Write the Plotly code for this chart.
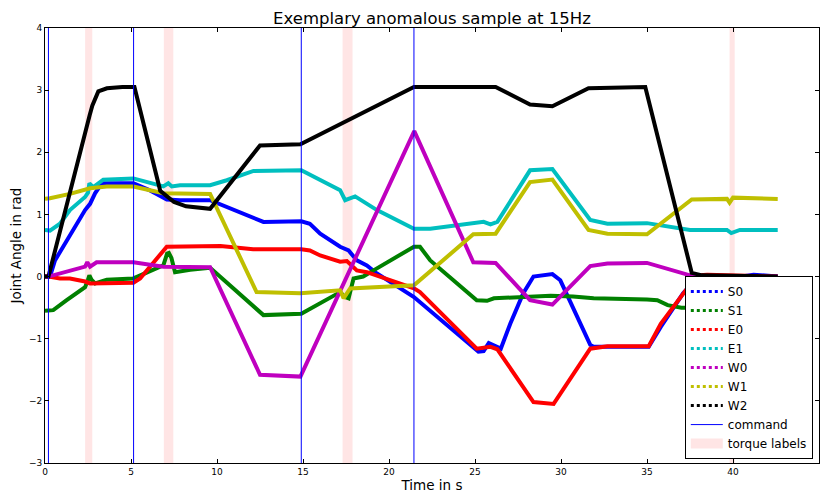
import plotly.graph_objects as go

# ---- data ----
t_S0 = [0, 0.29, 0.58, 1.16, 1.75, 2.33, 2.62, 2.91, 3.3, 5.14, 6.0, 6.88, 7.08, 7.85, 9.6, 12.7, 14.9, 15.4, 16.0, 17.16, 17.65, 18.13, 18.71, 19.3, 21.45, 25.2, 25.5, 25.8, 26.5, 27.05, 27.8, 28.4, 29.5, 29.96, 31.7, 31.9, 35.1, 35.8, 37.1, 38.0, 40.5, 41.2, 42.6]
S0 = [0, 0, 0.26, 0.53, 0.8, 1.07, 1.17, 1.34, 1.5, 1.5, 1.4, 1.28, 1.24, 1.23, 1.23, 0.88, 0.89, 0.85, 0.69, 0.48, 0.42, 0.26, 0.18, 0.05, -0.33, -1.21, -1.2, -1.07, -1.16, -0.76, -0.27, 0.0, 0.04, -0.06, -1.1, -1.13, -1.13, -0.81, -0.27, 0.0, 0.0, 0.03, 0.0]

t_S1 = [0, 0.48, 1.26, 2.33, 2.5, 2.58, 2.7, 2.91, 3.59, 5.14, 6.88, 7.1, 7.2, 7.35, 7.56, 8.44, 9.6, 12.7, 14.9, 17.16, 17.45, 17.65, 17.94, 18.5, 19.1, 21.45, 21.8, 22.4, 25.1, 25.7, 26.1, 29.4, 30.7, 31.9, 35.0, 35.6, 36.2, 37.0, 42.6]
S1 = [-0.55, -0.54, -0.38, -0.17, -0.05, 0.02, -0.05, -0.11, -0.05, -0.03, 0.18, 0.37, 0.38, 0.3, 0.07, 0.11, 0.14, -0.62, -0.6, -0.25, -0.33, -0.35, -0.03, 0.0, 0.1, 0.48, 0.48, 0.26, -0.38, -0.39, -0.35, -0.31, -0.32, -0.35, -0.37, -0.38, -0.46, -0.5, -0.5]

t_E0 = [0, 0.2, 0.87, 1.45, 2.33, 2.62, 5.14, 5.53, 7.08, 9.0, 10.2, 12.1, 14.9, 15.4, 16.0, 17.16, 17.55, 18.13, 18.71, 21.45, 21.8, 25.1, 25.9, 26.3, 28.4, 29.57, 31.7, 32.7, 35.1, 35.8, 36.55, 37.9, 38.5, 42.6]
E0 = [0, 0, -0.03, -0.03, -0.08, -0.11, -0.1, -0.03, 0.48, 0.49, 0.49, 0.44, 0.44, 0.42, 0.34, 0.24, 0.25, 0.1, 0.07, -0.19, -0.25, -1.16, -1.13, -1.17, -2.02, -2.05, -1.16, -1.12, -1.12, -0.76, -0.49, 0.02, 0.03, 0.0]

t_E1 = [0, 0.29, 0.87, 1.45, 2.33, 2.5, 2.58, 2.81, 3.39, 5.14, 6.88, 7.17, 7.37, 7.85, 9.6, 10.57, 12.12, 14.9, 17.16, 17.45, 18.03, 19.3, 21.45, 22.4, 25.5, 25.9, 26.3, 28.2, 29.5, 31.7, 32.7, 35.0, 37.5, 39.65, 39.9, 40.4, 42.6]
E1 = [0.75, 0.74, 0.85, 1.07, 1.28, 1.35, 1.5, 1.44, 1.56, 1.58, 1.45, 1.5, 1.45, 1.47, 1.47, 1.55, 1.7, 1.71, 1.39, 1.23, 1.29, 1.07, 0.77, 0.77, 0.88, 0.84, 0.88, 1.71, 1.73, 0.91, 0.85, 0.86, 0.75, 0.75, 0.7, 0.75, 0.75]

t_W0 = [0, 0.2, 2.33, 2.46, 2.62, 3.0, 5.14, 6.88, 9.6, 12.5, 14.85, 21.47, 24.9, 26.2, 28.2, 29.5, 31.7, 32.7, 35.0, 37.5, 38.5, 42.6]
W0 = [0, 0, 0.16, 0.23, 0.16, 0.23, 0.23, 0.16, 0.15, -1.58, -1.61, 2.34, 0.23, 0.22, -0.38, -0.45, 0.17, 0.21, 0.22, 0.02, -0.01, 0.0]

t_W1 = [0, 0.29, 1.45, 2.62, 3.59, 5.14, 6.1, 6.88, 9.6, 12.3, 14.85, 17.16, 17.36, 17.74, 21.45, 24.9, 26.2, 28.2, 29.5, 31.6, 32.7, 35.0, 37.6, 39.65, 39.8, 40.0, 42.6]
W1 = [1.25, 1.26, 1.33, 1.42, 1.45, 1.45, 1.39, 1.34, 1.33, -0.25, -0.27, -0.22, -0.35, -0.19, -0.14, 0.68, 0.69, 1.52, 1.56, 0.75, 0.69, 0.68, 1.24, 1.25, 1.19, 1.27, 1.25]

t_W2 = [0, 0.2, 2.6, 2.75, 3.1, 3.6, 4.5, 5.2, 6.7, 7.5, 8.2, 9.6, 12.5, 14.85, 21.45, 26.2, 28.2, 29.5, 31.6, 34.9, 37.6, 38.2, 42.6]
W2 = [0.0, 0.0, 2.6, 2.75, 2.98, 3.03, 3.05, 3.05, 1.38, 1.2, 1.13, 1.09, 2.11, 2.13, 3.05, 3.05, 2.77, 2.74, 3.03, 3.05, 0.06, 0.02, 0.0]

command_times = [0.2, 5.15, 14.9, 21.45]
torque_start = [2.33, 6.91, 17.3, 39.8]
torque_end = [2.75, 7.46, 17.88, 40.1]

series_names = ["S0", "S1", "E0", "E1", "W0", "W1", "W2"]
series_t = [t_S0, t_S1, t_E0, t_E1, t_W0, t_W1, t_W2]
series_y = [S0, S1, E0, E1, W0, W1, W2]
series_colors = ["#0000ff", "#008000", "#ff0000", "#00bfbf", "#bf00bf", "#bfbf00", "#000000"]

FONT = "DejaVu Sans"
fig = go.Figure()

for name, tx, yy, c in zip(series_names, series_t, series_y, series_colors):
    fig.add_trace(go.Scatter(x=tx, y=yy, mode="lines", line=dict(color=c, width=4),
                             showlegend=False, legendgroup=name, hoverinfo="skip"))

cx, cy = [], []
for ct in command_times:
    cx += [ct, ct, None]
    cy += [-3, 4, None]
fig.add_trace(go.Scatter(x=cx, y=cy, mode="lines", line=dict(color="#0000ff", width=1),
                         showlegend=False, legendgroup="command"))

for s, e in zip(torque_start, torque_end):
    fig.add_shape(type="rect", xref="x", yref="y", x0=s, x1=e, y0=-3, y1=4,
                  fillcolor="rgba(255,0,0,0.1)", line_width=0, layer="below")

# legend entries
for name, c in zip(series_names, series_colors):
    fig.add_trace(go.Scatter(x=[None], y=[None], mode="lines", name=name,
                             line=dict(color=c, width=3, dash="dot"), legendgroup=name))
fig.add_trace(go.Scatter(x=[None], y=[None], mode="lines", name="command",
                         line=dict(color="#0000ff", width=1), legendgroup="command"))
fig.add_trace(go.Scatter(x=[None], y=[None], mode="lines", name="torque labels",
                         line=dict(color="#ffe5e5", width=10)))

axis_common = dict(showline=True, linecolor="#000000", linewidth=1, mirror="allticks",
                   ticks="inside", ticklen=4, tickcolor="#000000", showgrid=False,
                   zeroline=False, tickfont=dict(family=FONT, size=9, color="#000000"))

fig.update_layout(
    width=823, height=493,
    margin=dict(l=45, r=4, t=28, b=30),
    paper_bgcolor="white", plot_bgcolor="white",
    font=dict(family=FONT, color="#000000"),
    title=dict(text="Exemplary anomalous sample at 15Hz", x=0.5, xref="paper",
               y=1 - 18 / 493, yref="container", yanchor="middle",
               font=dict(family=FONT, size=16.5)),
    xaxis=dict(range=[0, 45], dtick=5, tick0=0,
               title=dict(text="Time in s", font=dict(family=FONT, size=13.5), standoff=4),
               **axis_common),
    yaxis=dict(range=[-3, 4], dtick=1, tick0=0,
               title=dict(text="Joint Angle in rad", font=dict(family=FONT, size=13.5), standoff=4),
               **axis_common),
    legend=dict(x=0.992, y=0.009, xanchor="right", yanchor="bottom",
                bgcolor="white", bordercolor="#000000", borderwidth=1,
                font=dict(family=FONT, size=12), tracegroupgap=0, itemwidth=32),
    showlegend=True,
)

fig.write_html("out.html")
